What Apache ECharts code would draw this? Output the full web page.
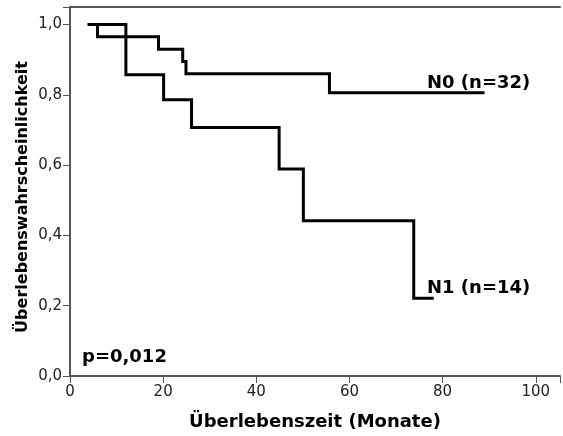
<!DOCTYPE html>
<html>
<head>
<meta charset="utf-8">
<script src="https://cdn.jsdelivr.net/npm/echarts@6/dist/echarts.min.js"></script>
<style>
  html, body { margin: 0; padding: 0; background: #fff; }
  #chart { width: 563px; height: 436px; }
</style>
</head>
<body>
<div id="chart"></div>
<script>
// Kaplan-Meier survival steps: [month, survival probability]
const n0Times = [3.8, 5.9, 19.0, 24.2, 24.9, 55.7, 89.0];
const n0Surv  = [1.0, 0.965, 0.93, 0.895, 0.86, 0.806, 0.806];
const n1Times = [3.8, 12.0, 20.1, 26.1, 44.9, 50.1, 73.8, 78.1];
const n1Surv  = [1.0, 0.857, 0.786, 0.707, 0.589, 0.442, 0.221, 0.221];

const n0Label = 'N0 (n=32)';
const n1Label = 'N1 (n=14)';
const pLabel = 'p=0,012';
const xTitle = 'Überlebenszeit (Monate)';
const yTitle = 'Überlebenswahrscheinlichkeit';

const FONT = 'DejaVu Sans';
const AXIS_GRAY = '#555555';

function pairs(xs, ys) { return xs.map((x, i) => [x, ys[i]]); }

const chart = echarts.init(document.getElementById('chart'), null, { renderer: 'canvas' });

const option = {
  backgroundColor: '#ffffff',
  animation: false,
  grid: { left: 70, right: 0, top: 7, bottom: 60 },
  xAxis: [{
    type: 'value', min: 0, max: 105.2, interval: 20,
    axisLine: { show: true, lineStyle: { color: AXIS_GRAY, width: 2 } },
    axisTick: { show: true, length: 7, lineStyle: { color: AXIS_GRAY, width: 1 } },
    axisLabel: {
      color: '#222', fontFamily: FONT, fontSize: 15, margin: 9,
      formatter: v => (v % 20 === 0 ? String(v) : '')
    },
    splitLine: { show: false },
    name: xTitle, nameLocation: 'middle', nameGap: 37,
    nameTextStyle: { fontFamily: FONT, fontWeight: 'bold', fontSize: 18, color: '#000' }
  }, {
    type: 'value', position: 'top', min: 0, max: 105.2,
    axisLine: { show: true, lineStyle: { color: AXIS_GRAY, width: 2 } },
    axisTick: { show: false }, axisLabel: { show: false }, splitLine: { show: false }
  }],
  yAxis: {
    type: 'value', min: 0, max: 1.05, interval: 0.2,
    axisLine: { show: true, lineStyle: { color: AXIS_GRAY, width: 2 } },
    axisTick: { show: true, length: 7, lineStyle: { color: AXIS_GRAY, width: 1 } },
    axisLabel: {
      color: '#222', fontFamily: FONT, fontSize: 15, margin: 8,
      formatter: v => {
        const r = Math.round(v * 10) / 10;
        if (Math.abs(r - v) > 1e-6 || r > 1) return '';
        return r.toFixed(1).replace('.', ',');
      }
    },
    splitLine: { show: false }
  },
  series: [{
    name: n0Label, type: 'line', step: 'end', xAxisIndex: 0,
    data: pairs(n0Times, n0Surv), symbol: 'none',
    lineStyle: { color: '#000', width: 3, join: 'miter', cap: 'butt' }
  }, {
    name: n1Label, type: 'line', step: 'end', xAxisIndex: 0,
    data: pairs(n1Times, n1Surv), symbol: 'none',
    lineStyle: { color: '#000', width: 3, join: 'miter', cap: 'butt' }
  }],
  graphic: [
    { type: 'text', x: 23, y: 197, rotation: Math.PI / 2,
      style: { text: yTitle, font: 'bold 16px "DejaVu Sans"', fill: '#000',
               align: 'center', verticalAlign: 'middle' } },
    { type: 'text', left: 427, top: 74,
      style: { text: n0Label, font: 'bold 18px "DejaVu Sans"', fill: '#000' } },
    { type: 'text', left: 427, top: 279,
      style: { text: n1Label, font: 'bold 18px "DejaVu Sans"', fill: '#000' } },
    { type: 'text', left: 82, top: 348,
      style: { text: pLabel, font: 'bold 18px "DejaVu Sans"', fill: '#000' } }
  ]
};

chart.setOption(option);
</script>
</body>
</html>
